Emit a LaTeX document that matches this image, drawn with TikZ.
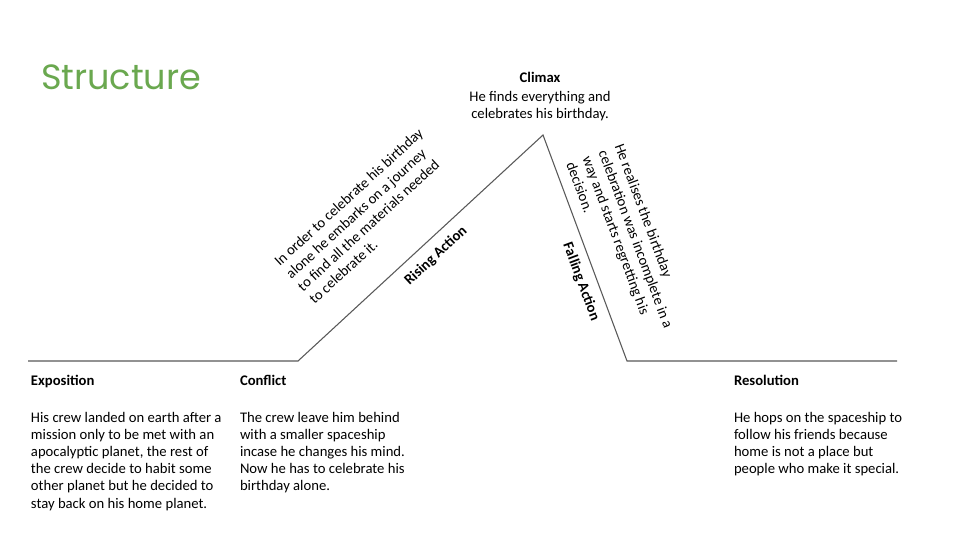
\documentclass[tikz,border=0pt]{standalone}
\usepackage{fontspec}
\setmainfont{Carlito}
\newfontfamily\titlefont{Poppins}
\definecolor{titlegreen}{HTML}{6AA84F}
\definecolor{linegray}{HTML}{595959}
\begin{document}
\begin{tikzpicture}[x=0.75pt,y=-0.75pt,
  every node/.style={inner sep=0pt, outer sep=0pt, text=black},
  bodytext/.style={font=\fontsize{11}{12.9}\selectfont, align=left},
  headtext/.style={font=\fontsize{11}{12.9}\selectfont\bfseries},
  arcline/.style={draw=linegray, line width=0.8pt}]
\fill[white] (0,0) rectangle (960,540);
\useasboundingbox (0,0) rectangle (960,540);

\node[font=\titlefont\fontsize{26.3}{30}\selectfont, text=titlegreen, anchor=west] (title) at (41,77) {Structure};

\coordinate (p0) at (28,361);
\coordinate (p1) at (298,361);
\coordinate (peak) at (543,135);
\coordinate (p3) at (627,361);
\coordinate (p4) at (897,361);
\draw[arcline] (p0) -- (p1) -- (peak) -- (p3) -- (p4);

\node[headtext, anchor=base] (climaxh) at (540,82) {Climax};
\node[bodytext, align=center, anchor=north] (climaxb) at (540,91) {He finds everything and\\celebrates his birthday.};

\node[bodytext, rotate=42.5] (risetext) at (366,216) {In order to celebrate his birthday\\alone he embarks on a journey\\to find all the materials needed\\to celebrate it.};
\node[headtext, rotate=42.7] (riselabel) at (436,256) {Rising Action};

\node[bodytext, rotate=-69.6] (falltext) at (628,242) {He realises the birthday\\celebration was incomplete in a\\way and starts regretting his\\decision.};
\node[headtext, rotate=-69.6] (falllabel) at (581,282) {Falling Action};

\node[headtext, anchor=base west] (exph) at (31,385) {Exposition};
\node[bodytext, anchor=north west] (expb) at (31,412) {His crew landed on earth after a\\mission only to be met with an\\apocalyptic planet, the rest of\\the crew decide to habit some\\other planet but he decided to\\stay back on his home planet.};

\node[headtext, anchor=base west] (confh) at (240,385) {Conflict};
\node[bodytext, anchor=north west] (confb) at (240,412) {The crew leave him behind\\with a smaller spaceship\\incase he changes his mind.\\Now he has to celebrate his\\birthday alone.};

\node[headtext, anchor=base west] (resh) at (734,385) {Resolution};
\node[bodytext, anchor=north west] (resb) at (734,412) {He hops on the spaceship to\\follow his friends because\\home is not a place but\\people who make it special.};
\end{tikzpicture}
\end{document}
